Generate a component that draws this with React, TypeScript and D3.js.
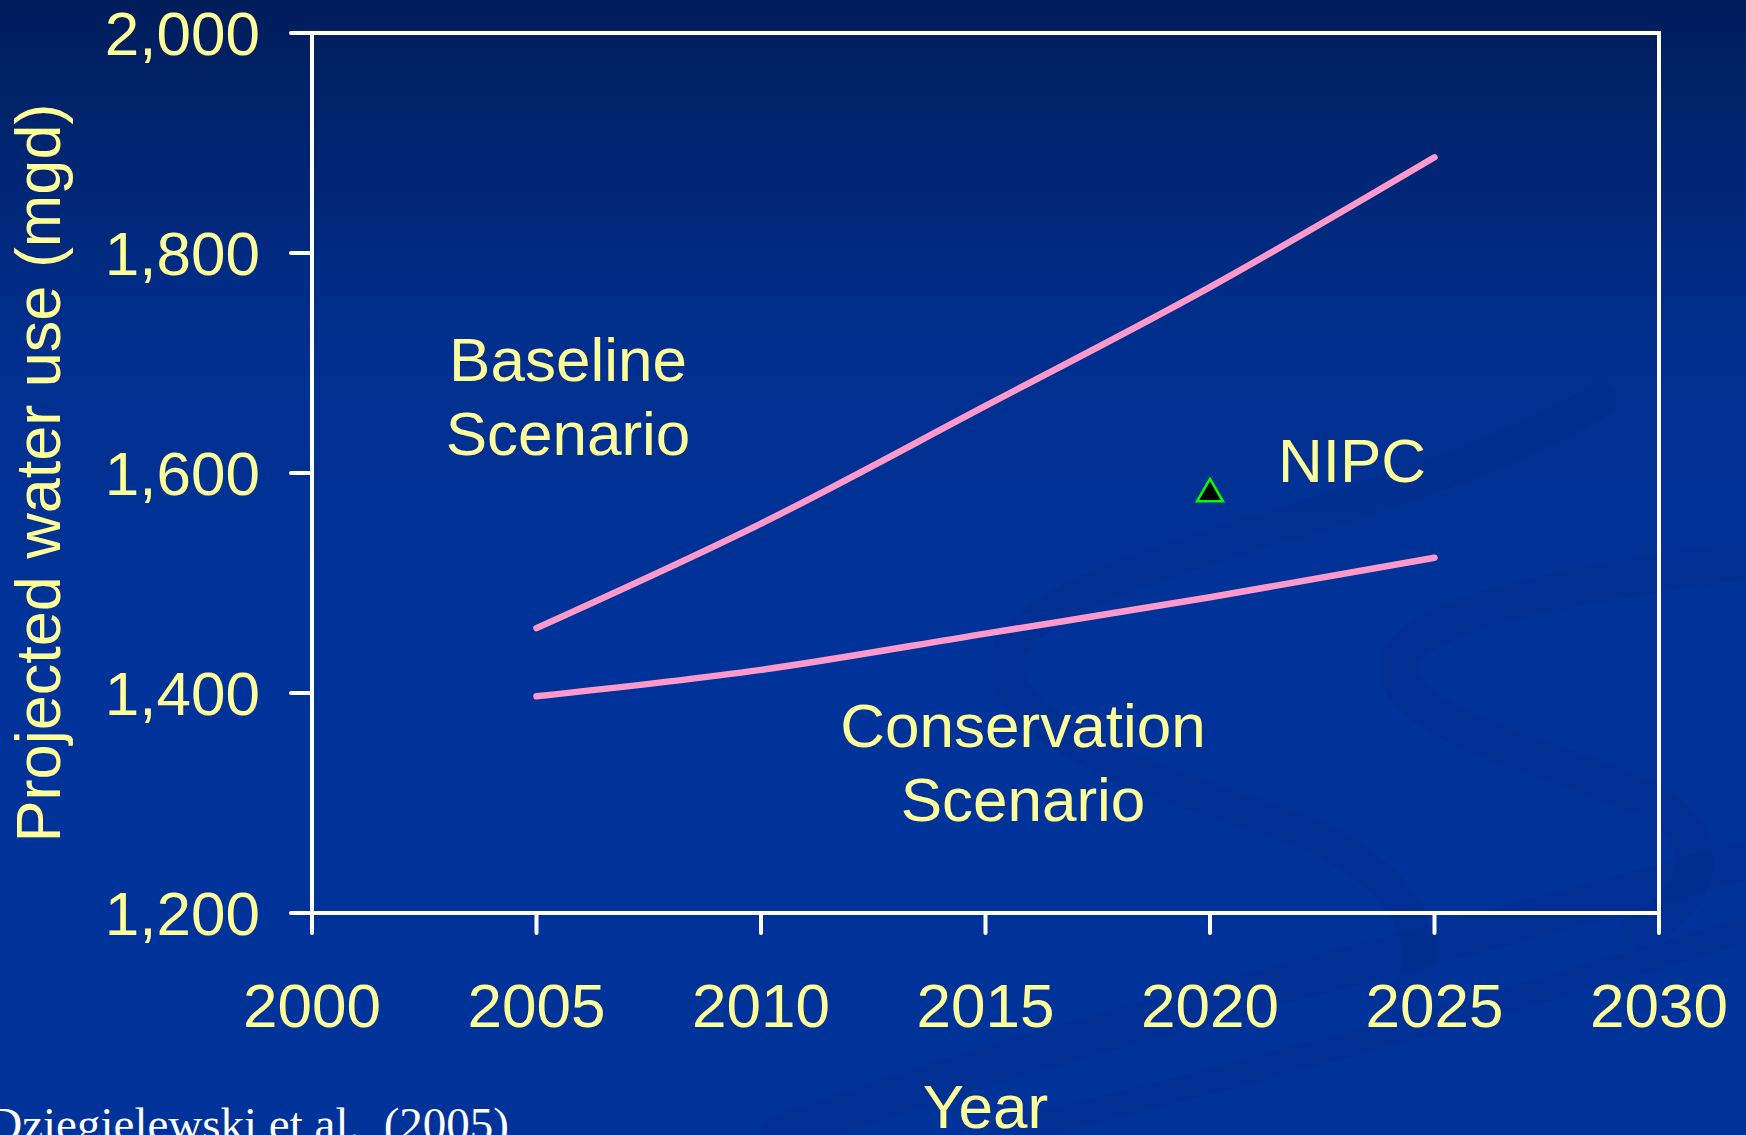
import React from "react";
import * as d3 from "d3";

const years = [2005, 2010, 2015, 2020, 2025];
const baseline = [1459, 1554, 1661, 1769, 1887];
const conservation = [1397, 1421, 1454, 1487, 1523];
const nipcYear = 2020;
const nipcValue = 1581;
const xTicks = [2000, 2005, 2010, 2015, 2020, 2025, 2030];
const yTicks = [1200, 1400, 1600, 1800, 2000];

const W = 1746;
const H = 1135;
const M = { left: 312, right: 1659, top: 33, bottom: 913 };
const FONT = "'Liberation Sans', Arial, Helvetica, sans-serif";
const YEL = "#ffff99";

export default function App() {
  const x = d3.scaleLinear().domain([2000, 2030]).range([M.left, M.right]);
  const y = d3.scaleLinear().domain([1200, 2000]).range([M.bottom, M.top]);
  const line = d3
    .line<[number, number]>()
    .x((d) => x(d[0]))
    .y((d) => y(d[1]))
    .curve(d3.curveMonotoneX);
  const basePath = line(years.map((yr, i) => [yr, baseline[i]]) as [number, number][]) || "";
  const consPath = line(years.map((yr, i) => [yr, conservation[i]]) as [number, number][]) || "";
  const tri = d3.symbol().type(d3.symbolTriangle).size(290)() || "";
  const fmt = d3.format(",");

  return (
    <svg
      width={W}
      height={H}
      viewBox={`0 0 ${W} ${H}`}
      style={{ position: "absolute", left: 0, top: 0, display: "block" }}
    >
      <defs>
        <linearGradient id="bg" x1="0" y1="0" x2="0" y2="1">
          <stop offset="0" stopColor="#001d5a" />
          <stop offset="0.3" stopColor="#002f8e" />
          <stop offset="0.55" stopColor="#003399" />
          <stop offset="1" stopColor="#003399" />
        </linearGradient>
      </defs>
      <rect x={0} y={0} width={W} height={H} fill="url(#bg)" />
      {/* decorative swooshes */}
      <g fill="none" stroke="#00287f" strokeOpacity={0.22} strokeLinecap="round">
        <path d="M1600 400 C 1400 520, 1050 560, 1010 650 C 980 730, 1180 790, 1300 830 C 1400 870, 1450 950, 1400 1000" strokeWidth={34} />
        <path d="M1746 560 C 1600 580, 1420 610, 1400 660 C 1380 720, 1560 760, 1650 800 C 1720 840, 1700 900, 1640 930" strokeWidth={38} />
        <path d="M780 1135 C 1100 1020, 1400 960, 1746 860" strokeWidth={40} />
        <path d="M1000 1135 C 1300 1060, 1550 990, 1746 930" strokeWidth={26} />
      </g>

      {/* frame */}
      <rect
        x={M.left}
        y={M.top}
        width={M.right - M.left}
        height={M.bottom - M.top}
        fill="none"
        stroke="#ffffff"
        strokeWidth={4}
      />
      {/* y ticks */}
      {yTicks.map((t) => (
        <g key={"y" + t}>
          <line x1={M.left - 21} x2={M.left} y1={y(t)} y2={y(t)} stroke="#fff" strokeWidth={4} strokeLinecap="round" />
          <text
            x={260}
            y={y(t)}
            dy="0.36em"
            textAnchor="end"
            fontFamily={FONT}
            fontSize={62}
            fill={YEL}
          >
            {fmt(t)}
          </text>
        </g>
      ))}
      {/* x ticks */}
      {xTicks.map((t) => (
        <g key={"x" + t}>
          <line x1={x(t)} x2={x(t)} y1={M.bottom} y2={M.bottom + 20} stroke="#fff" strokeWidth={4} strokeLinecap="round" />
          <text x={x(t)} y={1027} textAnchor="middle" fontFamily={FONT} fontSize={62} fill={YEL}>
            {t}
          </text>
        </g>
      ))}

      {/* axis titles */}
      <text x={(M.left + M.right) / 2} y={1128} textAnchor="middle" fontFamily={FONT} fontSize={62} fill={YEL}>
        Year
      </text>
      <text
        transform={`translate(60, ${(M.top + M.bottom) / 2}) rotate(-90)`}
        textAnchor="middle"
        fontFamily={FONT}
        fontSize={63}
        fill={YEL}
      >
        Projected water use (mgd)
      </text>

      {/* series */}
      <path d={basePath} fill="none" stroke="#ff99cc" strokeWidth={6.5} strokeLinecap="round" />
      <path d={consPath} fill="none" stroke="#ff99cc" strokeWidth={6.5} strokeLinecap="round" />
      <path
        d={tri}
        transform={`translate(${x(nipcYear)}, ${y(nipcValue)})`}
        fill="#000000"
        stroke="#00ff00"
        strokeWidth={2.5}
      />

      {/* annotations */}
      <text x={568} y={381} textAnchor="middle" fontFamily={FONT} fontSize={62} fill={YEL}>
        Baseline
      </text>
      <text x={568} y={455} textAnchor="middle" fontFamily={FONT} fontSize={62} fill={YEL}>
        Scenario
      </text>
      <text x={1352} y={482} textAnchor="middle" fontFamily={FONT} fontSize={62} fill={YEL}>
        NIPC
      </text>
      <text x={1023} y={747} textAnchor="middle" fontFamily={FONT} fontSize={62} fill={YEL}>
        Conservation
      </text>
      <text x={1023} y={821} textAnchor="middle" fontFamily={FONT} fontSize={62} fill={YEL}>
        Scenario
      </text>

      {/* source */}
      <text
        x={509}
        y={1140}
        textAnchor="end"
        fontFamily="'Liberation Serif', 'Times New Roman', serif"
        fontSize={47}
        fill="#ffffff"
        style={{ whiteSpace: "pre" }}
      >
        {"Dziegielewski et al.  (2005)"}
      </text>
    </svg>
  );
}
